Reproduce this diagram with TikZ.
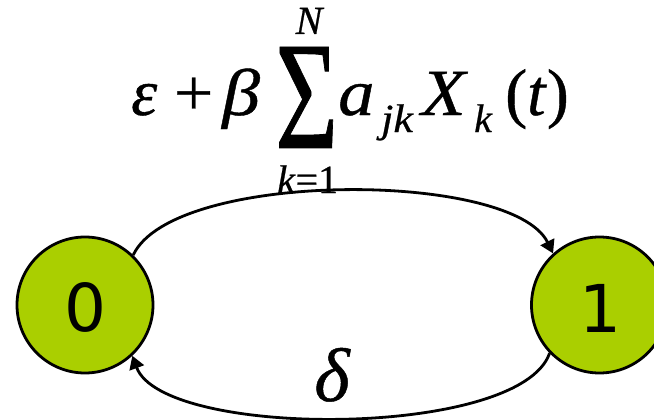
\documentclass[tikz,border=0pt]{standalone}
\usepackage{fontspec}
\setmainfont{Liberation Serif}
\newfontfamily\fml{Liberation Serif}[FakeBold=0.6]
\newfontfamily\digitfont{DejaVu Sans}
\usetikzlibrary{arrows.meta}
\definecolor{stategreen}{RGB}{170,207,0}
\begin{document}
\begin{tikzpicture}[x=1pt,y=-1pt,
  state/.style={circle,draw=black,line width=2.8pt,fill=stategreen,minimum size=136pt,inner sep=0pt},
  digit/.style={inner sep=0pt,font=\digitfont\fontsize{66}{70}\selectfont},
  bigit/.style={inner sep=0pt,anchor=base west,font=\fml\fontsize{66}{70}\selectfont\itshape},
  bigrm/.style={inner sep=0pt,anchor=base west,font=\fml\fontsize{66}{70}\selectfont\upshape},
  subit/.style={inner sep=0pt,anchor=base west,font=\fml\fontsize{40}{44}\selectfont\itshape},
  trans/.style={line width=2.8pt,-{Triangle[length=13pt,width=15pt]}}
]
\clip (0,0) rectangle (654,420);
\fill[white] (0,0) rectangle (654,420);

% states
\node[state] (n0) at (85,305) {};
\node[state] (n1) at (599.5,305) {};
\node[digit] (l0) at (85,307) {0};
\node[digit] (l1) at (600,308) {1};

% formula
\node[bigit] (eps) at (131,115) {ε};
\node[bigrm] (plus) at (174,115) {\scalebox{1.05}[1]{+}};
\node[bigit] (beta) at (222,115) {\scalebox{1.15}[1]{β}};
\node[inner sep=0pt,anchor=base west,font=\fml] (sum) at (275,148) {\resizebox{63pt}{101pt}{Σ}};
\node[subit,anchor=base] (N) at (309,34) {N};
\node[inner sep=0pt,anchor=base west,font=\fml\fontsize{40}{44}\selectfont] (low) at (277,193) {\textit{k}=1};
\node[bigit] (a) at (338,115) {\scalebox{1.1}[1]{a}};
\node[subit] (jk) at (381,132) {\scalebox{1.1}[1]{jk}};
\node[bigit] (X) at (421,115) {\scalebox{1.1}[1]{X}};
\node[subit] (k) at (474,132) {k};
\node[bigrm] (t) at (505,115) {(\textit{t})};

% delta
\node[inner sep=0pt,anchor=base,font=\fml\fontsize{76}{80}\selectfont\itshape] (delta) at (332,401) {δ};

% transitions
\draw[trans] (n0.46) .. controls (173,170) and (512,170) .. (n1.132);
\draw[trans] (n1.224) .. controls (520,439) and (163,439) .. (n0.313);
\end{tikzpicture}
\end{document}
